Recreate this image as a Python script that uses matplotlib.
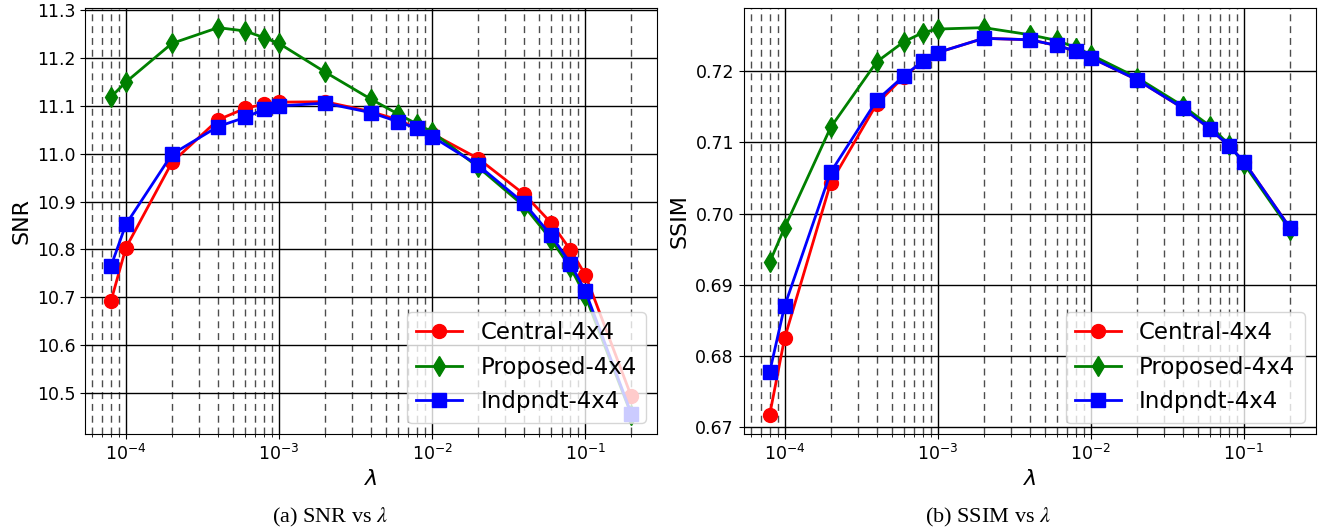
import matplotlib.pyplot as plt
from matplotlib.ticker import MultipleLocator

# regularisation weights (x axis, shared by both panels)
lambdas = [8e-5, 1e-4, 2e-4, 4e-4, 6e-4, 8e-4, 1e-3, 2e-3, 4e-3, 6e-3,
           8e-3, 1e-2, 2e-2, 4e-2, 6e-2, 8e-2, 1e-1, 2e-1]

# SNR panel
snr_central = [10.692, 10.803, 10.982, 11.071, 11.095, 11.104, 11.108, 11.109, 11.088,
               11.071, 11.053, 11.042, 10.990, 10.915, 10.855, 10.799, 10.747, 10.492]
snr_proposed = [11.119, 11.150, 11.231, 11.264, 11.257, 11.243, 11.231, 11.171, 11.114,
                11.083, 11.062, 11.046, 10.972, 10.890, 10.820, 10.762, 10.703, 10.454]
snr_indpndt = [10.765, 10.852, 10.999, 11.057, 11.076, 11.093, 11.100, 11.106, 11.086,
               11.067, 11.053, 11.036, 10.976, 10.896, 10.829, 10.770, 10.713, 10.456]

# SSIM panel
ssim_central = [0.6718, 0.6825, 0.7043, 0.7154, 0.7192, 0.7214, 0.7226, 0.7246, 0.7244,
                0.7236, 0.7228, 0.7219, 0.7188, 0.7148, 0.7119, 0.7095, 0.7073, 0.6980]
ssim_proposed = [0.6932, 0.6980, 0.7121, 0.7213, 0.7241, 0.7254, 0.7259, 0.7261, 0.7251,
                 0.7243, 0.7233, 0.7223, 0.7191, 0.7151, 0.7123, 0.7097, 0.7070, 0.6977]
ssim_indpndt = [0.6778, 0.6870, 0.7058, 0.7159, 0.7193, 0.7214, 0.7226, 0.7246, 0.7244,
                0.7236, 0.7228, 0.7219, 0.7188, 0.7148, 0.7119, 0.7095, 0.7073, 0.6980]

labels = ["Central-4x4", "Proposed-4x4", "Indpndt-4x4"]
styles = [("r", "o"), ("g", "d"), ("b", "s")]


def draw(ax, series, ylabel, step):
    for y, label, (c, m) in zip(series, labels, styles):
        ax.plot(lambdas, y, color=c, marker=m, markersize=10, linewidth=2, label=label)
    ax.set_xscale("log")
    ax.yaxis.set_major_locator(MultipleLocator(step))
    ax.grid(True, which="major", color="k", linestyle="-", linewidth=1)
    ax.grid(True, which="minor", color="0.3", linestyle=(0, (5, 3.5)), linewidth=1)
    ax.tick_params(labelsize=12.5)
    ax.set_xlabel(r"$\lambda$", fontsize=16)
    ax.set_ylabel(ylabel, fontsize=16)
    ax.legend(loc="lower right", fontsize=16.5)


fig = plt.figure(figsize=(13.2, 5.31), dpi=100)
ax1 = fig.add_axes([0.0644, 0.1827, 0.4336, 0.8017])
ax2 = fig.add_axes([0.5634, 0.1827, 0.4336, 0.8017])

draw(ax1, [snr_central, snr_proposed, snr_indpndt], "SNR", 0.1)
draw(ax2, [ssim_central, ssim_proposed, ssim_indpndt], "SSIM", 0.01)

fig.text(0.25, 0.026, r"(a) SNR vs $\lambda$", ha="center", va="center",
         fontsize=16, family="Liberation Serif", math_fontfamily="stix")
fig.text(0.7485, 0.026, r"(b) SSIM vs $\lambda$", ha="center", va="center",
         fontsize=16, family="Liberation Serif", math_fontfamily="stix")

fig.savefig("out.png", dpi=100)
